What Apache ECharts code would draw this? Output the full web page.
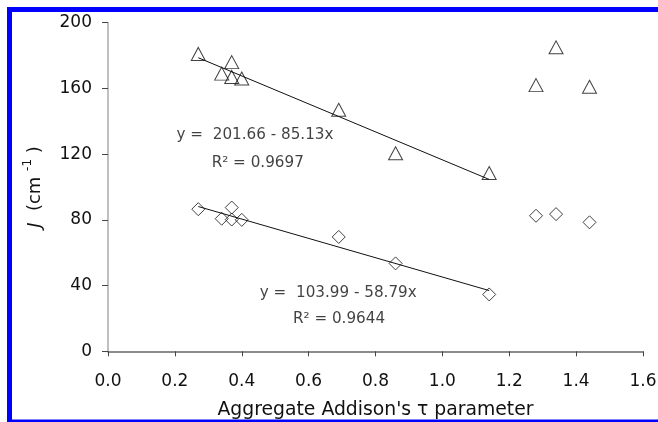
<!DOCTYPE html>
<html>
<head>
<meta charset="utf-8">
<script src="https://cdn.jsdelivr.net/npm/echarts@6/dist/echarts.min.js"></script>
<style>html,body{margin:0;padding:0;background:#fff;overflow:hidden}#c{width:658px;height:422px}</style>
</head>
<body>
<div id="c"></div>
<script>
// Upper series (triangles): [tau, J]
var triangleX = [0.27, 0.37, 0.34, 0.37, 0.40, 0.69, 0.86, 1.14, 1.28, 1.34, 1.44];
var triangleY = [181, 176, 169, 167, 166, 147, 120.5, 108.5, 162, 185, 161];
// Lower series (diamonds)
var diamondX = [0.27, 0.37, 0.34, 0.37, 0.40, 0.69, 0.86, 1.14, 1.28, 1.34, 1.44];
var diamondY = [86.5, 87.5, 80.7, 80.2, 80, 69.6, 53.5, 34.6, 82.5, 83.5, 78.5];
// Linear fits shown in the chart (intercept, slope) and fitted x-range
var fitUpper = {a: 201.66, b: -85.13};
var fitLower = {a: 103.99, b: -58.79};
var fitRange = [0.27, 1.14];
// Annotation texts and their anchor (data coords)
var annTexts = ['y =  201.66 - 85.13x', 'R² = 0.9697', 'y =  103.99 - 58.79x', 'R² = 0.9644'];
var annX = [0.205, 0.31, 0.454, 0.553];
var annY = [131.5, 114.5, 35.6, 19.4];
// Axis ticks
var xTicks = [0, 0.2, 0.4, 0.6, 0.8, 1.0, 1.2, 1.4, 1.6];
var yTicks = [0, 40, 80, 120, 160, 200];

var FONT = 'DejaVu Sans';
function zip(a, b){ return a.map(function(v,i){return [v, b[i]];}); }
function fitLine(f){ return fitRange.map(function(x){ return [x, f.a + f.b * x]; }); }

var chart = echarts.init(document.getElementById('c'), null, {renderer:'canvas'});
chart.setOption({
  animation: false,
  backgroundColor: '#fff',
  textStyle: {fontFamily: FONT},
  grid: {left: 108, right: 15, top: 22.7, bottom: 70.7, containLabel: false, outerBoundsMode: 'none'},
  xAxis: {
    type: 'value', min: xTicks[0], max: xTicks[xTicks.length-1], interval: 0.2,
    axisLine: {show: true, onZero: false, lineStyle: {color: '#666', width: 1.5}},
    axisTick: {show: true, inside: false, length: 5, lineStyle: {color: '#444', width: 1}},
    axisLabel: {fontFamily: FONT, fontSize: 17, color: '#111', margin: 22,
      formatter: function(v){ return v.toFixed(1); }},
    splitLine: {show: false},
    name: "Aggregate Addison's τ parameter",
    nameLocation: 'middle', nameGap: 49,
    nameTextStyle: {fontFamily: FONT, fontSize: 18.8, color: '#111'}
  },
  yAxis: {
    type: 'value', min: yTicks[0], max: yTicks[yTicks.length-1], interval: 40,
    axisLine: {show: true, onZero: false, lineStyle: {color: '#aaa', width: 1.5}},
    axisTick: {show: true, inside: false, length: 6, lineStyle: {color: '#444', width: 1}},
    axisLabel: {fontFamily: FONT, fontSize: 17, color: '#111', margin: 16},
    splitLine: {show: false},
    name: '{i|J}{n|  (cm }{s|-1}{n| )}',
    nameLocation: 'middle', nameGap: 60, nameRotate: 90,
    nameTextStyle: {
      rich: {
        i: {fontFamily: FONT, fontSize: 18, fontStyle: 'italic', color: '#111', lineHeight: 26},
        n: {fontFamily: FONT, fontSize: 18, color: '#111', lineHeight: 26},
        s: {fontFamily: FONT, fontSize: 12, color: '#111', verticalAlign: 'top', lineHeight: 26}
      }
    }
  },
  series: [
    {type: 'line', data: fitLine(fitUpper), showSymbol: false, symbol: 'none',
     lineStyle: {color: '#111', width: 1}, z: 3, silent: true},
    {type: 'line', data: fitLine(fitLower), showSymbol: false, symbol: 'none',
     lineStyle: {color: '#111', width: 1}, z: 3, silent: true},
    {type: 'scatter', data: zip(triangleX, triangleY), symbol: 'triangle', symbolSize: [14, 13],
     itemStyle: {color: 'rgba(255,255,255,0)', borderColor: '#111', borderWidth: 1}, z: 4},
    {type: 'scatter', data: zip(diamondX, diamondY), symbol: 'diamond', symbolSize: [13, 13],
     itemStyle: {color: 'rgba(255,255,255,0)', borderColor: '#111', borderWidth: 1}, z: 4},
    {type: 'scatter', data: annX.map(function(x,i){ return {value:[x, annY[i]], name: annTexts[i]}; }),
     symbolSize: 0, silent: true, z: 5,
     label: {show: true, position: 'right', distance: 0, formatter: function(p){ return p.name; },
       fontFamily: FONT, fontSize: 15.2, color: '#111'}}
  ],
  graphic: [
    {type: 'rect', shape: {x: 7, y: 7, width: 651, height: 5}, silent: true, z: 100,
     style: {fill: '#0000ff'}},
    {type: 'rect', shape: {x: 7, y: 7, width: 5, height: 415}, silent: true, z: 100,
     style: {fill: '#0000ff'}},
    {type: 'rect', shape: {x: 7, y: 419.5, width: 651, height: 2.5}, silent: true, z: 100,
     style: {fill: '#0000ff'}}
  ]
});
</script>
</body>
</html>
